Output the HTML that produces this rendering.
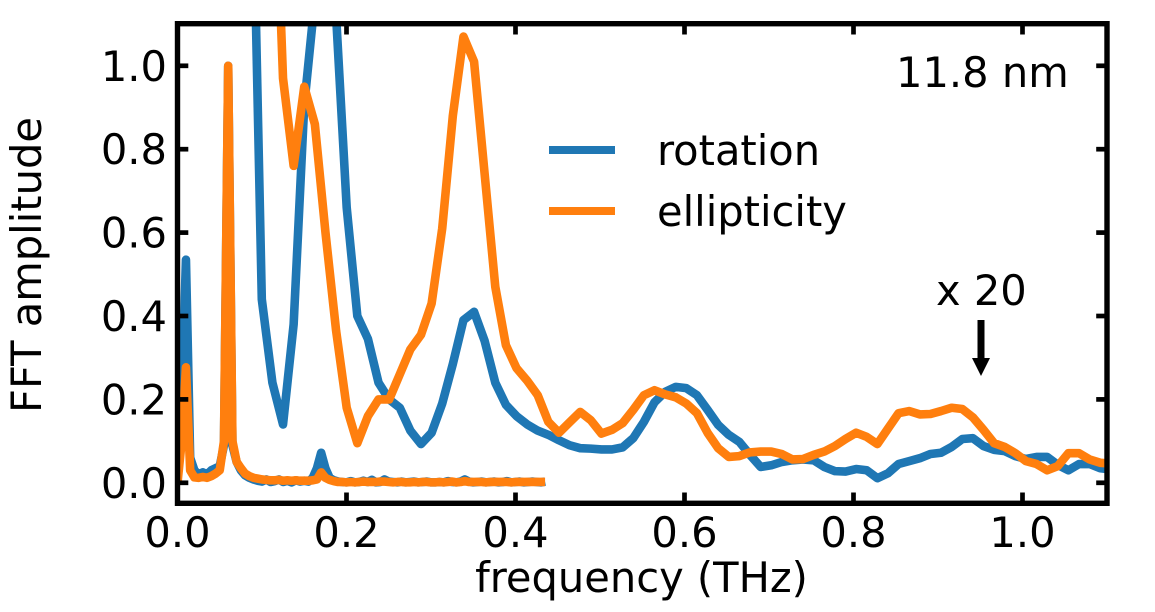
<!DOCTYPE html>
<html>
<head>
<meta charset="utf-8">
<style>
html,body{margin:0;padding:0;background:#fff;width:1155px;height:612px;overflow:hidden}
svg{display:block}
text{font-family:"DejaVu Sans","Liberation Sans",sans-serif;font-size:41.6px;fill:#000}
</style>
</head>
<body>
<svg id="chart" width="1155" height="612" viewBox="0 0 1155 612" xmlns="http://www.w3.org/2000/svg">
<defs><clipPath id="plot-clip"><rect x="177.5" y="23.7" width="929.5" height="479.6"/></clipPath></defs>
<g id="series" clip-path="url(#plot-clip)"></g>
<g id="axes"></g>
<text x="641.5" y="592" text-anchor="middle">frequency (THz)</text>
<text transform="translate(41 265) rotate(-90)" text-anchor="middle">FFT amplitude</text>
<text x="896" y="87">11.8 nm</text>
<text x="936" y="305">x 20</text>
<polygon points="977.5,320 984.5,320 984.5,358 990,358 981,376 972,358 977.5,358" fill="#000"/>
<g>
<line x1="549" y1="150" x2="615" y2="150" stroke="#1f77b4" stroke-width="8"/>
<line x1="549" y1="211" x2="615" y2="211" stroke="#ff7f0e" stroke-width="8"/>
<text x="657" y="165">rotation</text>
<text x="657" y="226">ellipticity</text>
</g>
</svg>
<script>
const xTicks = [0, 0.2, 0.4, 0.6, 0.8, 1.0];
const xTickLabels = ["0.0", "0.2", "0.4", "0.6", "0.8", "1.0"];
const yTicks = [0, 0.2, 0.4, 0.6, 0.8, 1.0];
const yTickLabels = ["0.0", "0.2", "0.4", "0.6", "0.8", "1.0"];

const lowFreqStep = 0.005;
const highFreqStart = 0.0872;
const highFreqStep = 0.01256;

const rotationLow = [0.01,0.2,0.535,0.06,0.03,0.02,0.025,0.02,0.03,0.035,0.04,0.09,1.0,0.09,0.05,0.03,0.018,0.012,0.008,0.005,0.003,0.008,0.002,0.004,0.008,0.002,0.005,0.001,0.006,0.003,0.005,0.003,0.012,0.035,0.072,0.035,0.012,0.006,0.003,0.002,0.001,0.004,0.001,0.002,0.005,0.002,0.007,0.001,0.002,0.008,0.003,0.002,0.001,0.003,0.001,0.002,0.003,0.001,0.002,0.003,0.001,0.001,0.002,0.001,0.004,0.002,0.001,0.003,0.008,0.003,0.001,0.002,0.003,0.001,0.002,0.003,0.001,0.002,0.004,0.001,0.002,0.003,0.001,0.002,0.003,0.002,0.001,0.003];

const ellipticityLow = [0.0,0.1,0.277,0.03,0.013,0.012,0.014,0.012,0.016,0.022,0.03,0.1,1.0,0.1,0.05,0.035,0.022,0.016,0.012,0.01,0.008,0.007,0.006,0.006,0.007,0.005,0.006,0.005,0.006,0.005,0.005,0.005,0.006,0.008,0.025,0.012,0.007,0.004,0.002,0.002,0.001,0.002,0.001,0.002,0.003,0.002,0.002,0.002,0.003,0.003,0.002,0.001,0.002,0.002,0.001,0.001,0.002,0.001,0.002,0.002,0.001,0.001,0.002,0.001,0.002,0.003,0.001,0.002,0.004,0.002,0.002,0.002,0.002,0.001,0.002,0.002,0.002,0.002,0.002,0.001,0.002,0.002,0.002,0.002,0.002,0.002,0.002,0.002];

const rotationHigh = [1.65,0.44,0.24,0.14,0.38,0.906,1.16,1.9,1.12,0.66,0.40,0.345,0.24,0.2,0.18,0.125,0.093,0.12,0.19,0.285,0.39,0.41,0.34,0.24,0.187,0.16,0.14,0.125,0.115,0.102,0.09,0.083,0.082,0.08,0.08,0.085,0.107,0.146,0.193,0.218,0.23,0.227,0.21,0.175,0.139,0.115,0.098,0.067,0.038,0.042,0.05,0.054,0.056,0.054,0.038,0.028,0.027,0.033,0.03,0.011,0.023,0.045,0.052,0.059,0.069,0.072,0.086,0.105,0.107,0.088,0.079,0.076,0.064,0.057,0.062,0.062,0.043,0.03,0.045,0.045,0.035,0.032];

const ellipticityHigh = [3.0,2.2,1.66,0.97,0.76,0.95,0.86,0.60,0.365,0.18,0.095,0.16,0.2,0.2,0.26,0.32,0.355,0.43,0.61,0.88,1.07,1.01,0.74,0.47,0.33,0.275,0.245,0.21,0.146,0.12,0.145,0.17,0.15,0.118,0.127,0.143,0.175,0.21,0.222,0.212,0.205,0.19,0.167,0.12,0.083,0.062,0.064,0.073,0.075,0.075,0.069,0.056,0.057,0.067,0.075,0.088,0.105,0.12,0.11,0.093,0.13,0.167,0.172,0.164,0.165,0.172,0.18,0.177,0.157,0.127,0.095,0.086,0.071,0.052,0.045,0.03,0.04,0.071,0.071,0.056,0.048,0.046];

const NS = "http://www.w3.org/2000/svg";
function xScale(f) { return 177.5 + 845 * f; }
function yScale(v) { return 482.8 - 417 * v; }

const seriesGroup = document.getElementById("series");
const axesGroup = document.getElementById("axes");

function drawLine(values, startF, stepF, color) {
  const pts = values.map((v, i) => xScale(startF + stepF * i).toFixed(2) + "," + yScale(v).toFixed(2)).join(" ");
  const line = document.createElementNS(NS, "polyline");
  line.setAttribute("points", pts);
  line.setAttribute("fill", "none");
  line.setAttribute("stroke", color);
  line.setAttribute("stroke-width", "8.6");
  line.setAttribute("stroke-linejoin", "round");
  line.setAttribute("stroke-linecap", "butt");
  seriesGroup.appendChild(line);
  return line;
}

const l1 = drawLine(rotationLow, 0, lowFreqStep, "#1f77b4");


const l2 = drawLine(ellipticityLow, 0, lowFreqStep, "#ff7f0e");


const l3 = drawLine(rotationHigh, highFreqStart, highFreqStep, "#1f77b4");


const l4 = drawLine(ellipticityHigh, highFreqStart, highFreqStep, "#ff7f0e");



function tickLine(x1, y1, x2, y2) {
  const t = document.createElementNS(NS, "line");
  t.setAttribute("x1", x1);
  t.setAttribute("y1", y1);
  t.setAttribute("x2", x2);
  t.setAttribute("y2", y2);
  t.setAttribute("stroke", "#000");
  t.setAttribute("stroke-width", "4.7");
  axesGroup.appendChild(t);
  return t;
}

xTicks.forEach((f, i) => {
  const x = xScale(f);
  const b = tickLine(x, 503.3, x, 492.5);
  
  
  const t = tickLine(x, 23.7, x, 34.5);
  
  
  const label = document.createElementNS(NS, "text");
  label.setAttribute("x", x);
  label.setAttribute("y", 547);
  label.setAttribute("text-anchor", "middle");
  label.textContent = xTickLabels[i];
  
  
  axesGroup.appendChild(label);
});

yTicks.forEach((v, i) => {
  const y = yScale(v);
  const l = tickLine(177.5, y, 188.3, y);
  
  
  const r = tickLine(1107, y, 1096.2, y);
  
  
  const label = document.createElementNS(NS, "text");
  label.setAttribute("x", 167);
  label.setAttribute("y", y + 15);
  label.setAttribute("text-anchor", "end");
  label.textContent = yTickLabels[i];
  
  
  axesGroup.appendChild(label);
});

const frame = document.createElementNS(NS, "rect");
frame.setAttribute("x", 177.5);
frame.setAttribute("y", 23.7);
frame.setAttribute("width", 929.5);
frame.setAttribute("height", 479.6);
frame.setAttribute("fill", "none");
frame.setAttribute("stroke", "#000");
frame.setAttribute("stroke-width", "5.4");


axesGroup.appendChild(frame);
</script>
</body>
</html>
